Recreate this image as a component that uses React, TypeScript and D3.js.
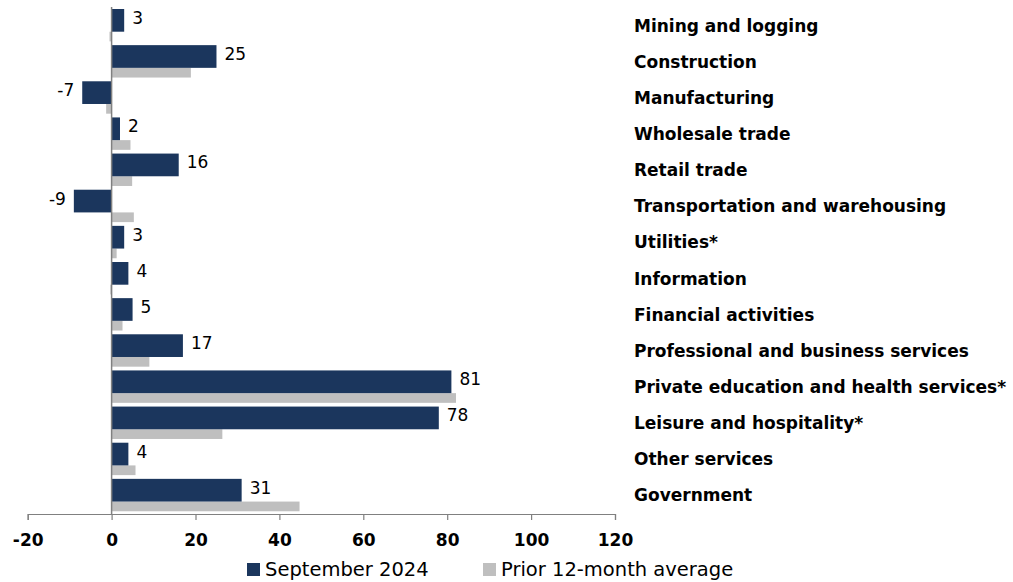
import React, { useEffect, useRef } from "react";
import * as d3 from "d3";

const categories = [
  "Mining and logging",
  "Construction",
  "Manufacturing",
  "Wholesale trade",
  "Retail trade",
  "Transportation and warehousing",
  "Utilities*",
  "Information",
  "Financial activities",
  "Professional and business services",
  "Private education and health services*",
  "Leisure and hospitality*",
  "Other services",
  "Government",
];

const september2024 = [3, 25, -7, 2, 16, -9, 3, 4, 5, 17, 81, 78, 4, 31];
const priorAverage = [-0.5, 18.9, -1.3, 4.5, 4.9, 5.3, 1.2, -0.3, 2.6, 9.0, 82.1, 26.4, 5.7, 44.8];

const xTicks = [-20, 0, 20, 40, 60, 80, 100, 120];

const NAVY = "#1b365d";
const GREY = "#bfbfbf";
const FONT = "'DejaVu Sans', Verdana, sans-serif";

export default function App() {
  const svgRef = useRef<SVGSVGElement>(null);

  useEffect(() => {
    const width = 1013;
    const height = 582;
    const svg = d3.select(svgRef.current);
    svg.selectAll("*").remove();

    const x = d3.scaleLinear().domain([-20, 120]).range([27.7, 615]);
    const y = d3.scaleBand().domain(categories).range([6, 512]).paddingInner(0);
    const navyH = 22.7;
    const greyH = 9.7;
    const top = 3;

    const rows = categories.map((c, i) => ({
      c,
      cur: september2024[i],
      prior: priorAverage[i],
    }));

    // prior avg bars
    svg
      .append("g")
      .selectAll("rect")
      .data(rows)
      .enter()
      .append("rect")
      .attr("x", (d) => x(Math.min(0, d.prior)))
      .attr("width", (d) => Math.abs(x(d.prior) - x(0)))
      .attr("y", (d) => y(d.c)! + top + navyH)
      .attr("height", greyH)
      .attr("fill", GREY);

    // September bars
    svg
      .append("g")
      .selectAll("rect")
      .data(rows)
      .enter()
      .append("rect")
      .attr("x", (d) => x(Math.min(0, d.cur)))
      .attr("width", (d) => Math.abs(x(d.cur) - x(0)))
      .attr("y", (d) => y(d.c)! + top)
      .attr("height", navyH)
      .attr("fill", NAVY);

    // value labels
    svg
      .append("g")
      .selectAll("text")
      .data(rows)
      .enter()
      .append("text")
      .attr("x", (d) => (d.cur >= 0 ? x(d.cur) + 8 : x(d.cur) - 8))
      .attr("y", (d) => y(d.c)! + top + navyH / 2 - 1.5)
      .attr("text-anchor", (d) => (d.cur >= 0 ? "start" : "end"))
      .attr("dominant-baseline", "middle")
      .attr("font-family", FONT)
      .attr("font-size", 17)
      .attr("fill", "#000")
      .text((d) => d.cur);

    // zero line
    svg
      .append("line")
      .attr("x1", x(0))
      .attr("x2", x(0))
      .attr("y1", 7)
      .attr("y2", 514)
      .attr("stroke", "#808080")
      .attr("stroke-width", 1.5);

    // x axis
    const axisY = 514;
    const xAxis = svg
      .append("g")
      .attr("transform", `translate(0,${axisY})`)
      .call(
        d3
          .axisBottom(x)
          .tickValues(xTicks)
          .tickSize(6)
          .tickPadding(14)
          .tickFormat((d) => String(d))
      );
    xAxis.select(".domain").attr("stroke", "#808080").attr("stroke-width", 1.2);
    xAxis.selectAll(".tick line").attr("stroke", "#808080").attr("stroke-width", 1.2);
    xAxis
      .selectAll(".tick text")
      .attr("font-family", FONT)
      .attr("font-size", 17)
      .attr("font-weight", "bold")
      .attr("fill", "#000");

    // category labels
    svg
      .append("g")
      .selectAll("text")
      .data(categories)
      .enter()
      .append("text")
      .attr("x", 634)
      .attr("y", (d) => y(d)! + y.bandwidth() / 2 + 2.5)
      .attr("dominant-baseline", "middle")
      .attr("font-family", FONT)
      .attr("font-size", 17)
      .attr("font-weight", "bold")
      .attr("fill", "#000")
      .text((d) => d);

    // legend
    const legend = [
      { label: "September 2024", color: NAVY, x: 247 },
      { label: "Prior 12-month average", color: GREY, x: 483 },
    ];
    const lg = svg.append("g");
    legend.forEach((l) => {
      lg.append("rect").attr("x", l.x).attr("y", 563).attr("width", 13).attr("height", 13).attr("fill", l.color);
      lg.append("text")
        .attr("x", l.x + 18)
        .attr("y", 570.5)
        .attr("dominant-baseline", "middle")
        .attr("font-family", FONT)
        .attr("font-size", 19.5)
        .attr("fill", "#000")
        .text(l.label);
    });

    svg.attr("width", width).attr("height", height);
  }, []);

  return (
    <div style={{ position: "absolute", left: 0, top: 0 }}>
      <svg ref={svgRef} width={1013} height={582} style={{ display: "block", background: "#fff" }} />
    </div>
  );
}
